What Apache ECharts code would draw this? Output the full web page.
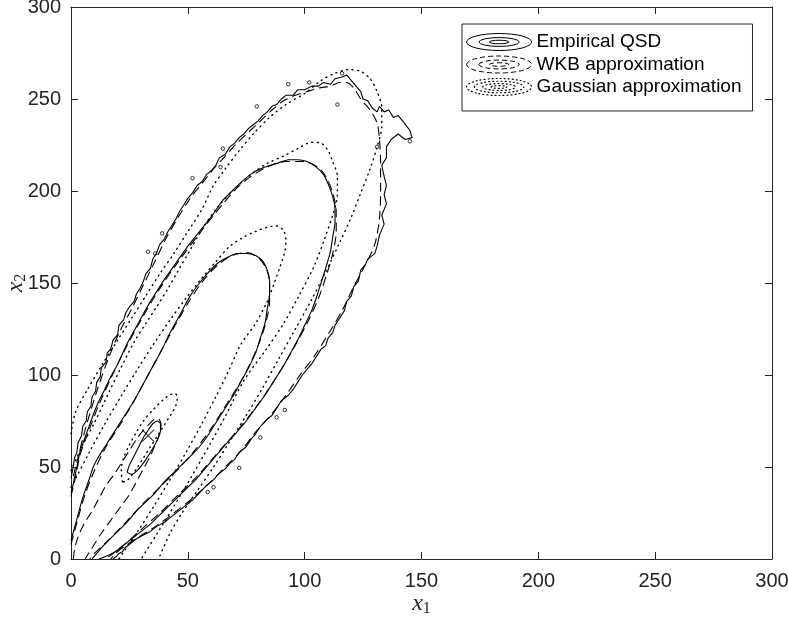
<!DOCTYPE html>
<html>
<head>
<meta charset="utf-8">
<script src="https://cdn.jsdelivr.net/npm/echarts@6/dist/echarts.min.js"></script>
<style>
  html, body { margin: 0; padding: 0; background: #fff; }
  #chart { width: 788px; height: 621px; }
</style>
</head>
<body>
<div id="chart"></div>
<script>
// axis ticks
const tickValues = [0, 50, 100, 150, 200, 250, 300]

// empirical QSD contours (outer -> core)
const empOuter = [[0,44],[0.8,49],[1.5,55],[2.5,58],[3,63],[4.5,67],[5,72],[6.5,75],[7,80],[8.5,83],[9,88],[10.5,91],[11,96],[12.5,99],[13,104],[15,107],[15.5,112],[17,114],[18,119],[20,122],[20.5,127],[22.5,130],[23.5,134],[25,137],[27,140],[28,144],[29.5,147],[31,151],[32,155],[34,158],[35,163],[36.5,166],[38,171],[40,174],[41.5,178],[43,181],[45,185],[46.5,189],[48,192],[50,196],[52,199],[54,203],[56,205],[58,209],[60,211],[62,214],[63.5,218],[66,220],[68,224],[70,226],[72,229],[74,231],[76,234],[78,236],[80,238],[82,241],[84,243],[86,246],[88,247],[90,250],[92,252],[95,252],[97,255],[100,255],[103,257],[106,257],[108,259],[111,258],[113,261],[116,262],[118,263],[120,260],[122,257],[124,254],[125,250],[127,249],[129,245],[131,243],[132,246],[134,243],[136,244],[138,240],[140,241],[142,238],[145,233],[146,229],[143,228],[140,231],[137,228],[135,224],[135,218],[133,214],[134,208],[135,203],[134,198],[135,193],[133,187],[134,182],[132,176],[131,170],[130,166],[127,163],[126,160],[124,157],[123,151],[121,148],[120,143],[118,140],[117,135],[115,131],[113,127],[112,123],[110,120],[109,116],[107,114],[105,110],[103,106],[101,103],[99,100],[97,96],[95,92],[93,89],[90,86],[88,82],[86,78],[84,76],[81,72],[79,68],[77,65],[75,61],[72,58],[70,54],[68,52],[66,49],[63,46],[61,43],[58,40],[55,36],[52,32],[49,29],[46,26],[43,23],[40,20],[37,18],[34,15],[31,13],[28,11],[25,8],[23,6],[22,4],[20.5,3],[19.5,1.5],[18,0]]
const empMid = [[0,36],[1,41],[2,47],[3,53],[4,59],[6,66],[8,73],[10,80],[12,86],[14,91],[17,99],[20,106],[24,117],[27,124],[30,131],[34,140],[37,146],[40,152],[45,161],[50,170],[55,178],[60,186],[65,195],[69,200],[73,205],[78,210],[83,213],[88,215],[93,217],[97,217],[101,216],[105,213],[108,209],[110,204],[112,197],[113,190],[113,183],[112,175],[111,167],[109,158],[107,150],[105,142],[103,135],[100,127],[97,119],[94,112],[91,105],[87,97],[83,89],[79,82],[75,75],[71,69],[66,62],[62,56],[58,50],[54,44],[50,39],[46,34],[42,29],[38,24],[34,19],[30,15],[26,11],[22,7],[19,4],[16,2],[14,1],[12,0]]
const empInner = [[0,10],[1.5,17],[3,24],[4.5,31],[6,37],[8,44],[9.5,50],[12,56],[15,62],[18,68],[21,74],[24,80],[27,86],[30,93],[33,100],[36,107],[39,114],[42,122],[45,129],[48,136],[51,143],[55,150],[59,156],[63,161],[67,164],[71,166],[75,166],[79,165],[82,162],[84,157],[85,151],[85,144],[84,136],[83,128],[81,120],[79,112],[76,104],[73,97],[70,90],[67,84],[64,78],[61,72],[58,66],[55,61],[52,57],[48,52],[44,47],[40,42],[36,36],[32,31],[28,26],[24,20],[20,15],[16,10],[13,6],[11,3],[9,0]]
const empCore = [[24,47],[25,51],[27,56],[29,61],[31,66],[33,70],[35,73.5],[37,75],[38.3,73.5],[38.3,70],[37,65],[35,60],[32,54],[29,49],[26,46],[24,47]]
// small isolated islands of the empirical outer contour
const empSpecks = [[33,167],[36,166],[39,177],[52,207],[64,213],[65,223],[79.5,246],[93,258],[102,259],[116,264],[114,247],[131,224],[145,227],[88,77],[91.5,81],[81,66],[72,49.5],[58.5,36.4],[61,39]]

// WKB approximation contours
const wkbOuter = [[1,45],[6,70],[11,91],[16,109],[21,124],[26,136],[31,149],[36,162],[41,175],[46,186],[51,196],[56,204],[61,212],[66,219],[71,226],[76,232],[81,238],[86,244],[91,249],[96,252],[101,254],[106,256],[111,257],[115,259],[118,259],[121,256],[124,250],[128,244],[131,237],[132,228],[132.5,215],[132.5,200],[132,185],[130,171],[126,160],[121,148],[116,135],[110,122],[104,110],[98,100],[92,89],[86,79],[79,69],[73,59],[66,50],[59,41],[52,33],[44,25],[36,17.5],[29,12],[23,7],[19,3],[17,0]]
const wkbMid = [[0,34],[2,45],[4,57],[8,71],[12,84],[17,98],[24,116],[30,130],[37,145],[45,160],[55,177],[65,193],[73,204],[83,212.5],[92,216],[99,216],[105,213.5],[109,208],[112,199],[113.5,189],[113.5,178],[112,166],[109.5,155],[106,142],[101,128],[95,114],[88,99],[80,84],[72,71],[63,58],[54,45],[46,35],[38,25],[30,16],[23,8],[18,3],[15,0]]
const wkbInner = [[0,8],[3,22],[6,35],[10,48],[15,61],[21,73],[27,86],[33,100],[39,114],[45,128],[51,141],[57,152],[63,160],[69,165],[75,166.5],[80,164],[83.5,158],[85,150],[85,140],[83.5,129],[81,119],[77,107],[72,95],[66,83],[60,71],[53,59],[46,49],[38,39],[30,29],[22,18],[15,9],[10,3],[8,0]]
const wkbCore = [[1,0],[1.5,5],[2.5,10],[4,15],[6,20],[9,26],[12,33],[15,40],[19,47],[22,53],[25,59],[28,65],[31,70],[34,74],[36,76],[37.5,76],[38.5,73],[38,68],[36,62],[34,56],[31,49],[28,42],[25,35],[21,28],[17,21],[13,14],[10,8],[8,4],[6,0]]

// Gaussian approximation contours
const gaussCore = [[22,42],[21.5,48],[22.5,55],[25,62],[28,69],[31,75],[35,81],[39,86],[42,89],[44.5,90],[45.5,88],[45,84],[43,79],[40,73],[37,67],[34,61],[31,55],[28,49],[25,44],[23,42],[22,42]]
const gaussInner = [[0,39],[2,43.8],[8.1,58.6],[14.6,73.7],[21.5,88.6],[28.4,103],[35.4,116.9],[42.4,129.9],[49.2,141.7],[55.7,152.2],[61.8,161.3],[68,170],[74,175],[79,178],[84,180.3],[88,181],[91,178.5],[92,173],[91.5,167],[89.5,159],[87,150],[84,140],[79,128],[72.6,116.5],[67.6,102.7],[62,88.2],[55.9,73.4],[49.4,58.3],[42.5,43.4],[35.6,29],[28.6,15.1],[21.6,2.1],[20.5,0]]
const gaussMid = [[0,48],[5,62],[10,74],[16,90],[21,103],[27,117.9],[32,128],[36.8,137.4],[41.5,147],[46,157],[51,168],[56,179],[62,190],[69,200],[76,208],[84,215],[91,219],[97,223],[103,226.5],[107,226],[110,222],[112,216],[114,208],[114,198],[112,187],[108.5,174],[104,159],[97.5,143],[91,128],[83,113],[74,97],[65.5,76.3],[56.3,55.2],[46.7,34.3],[37,14.1],[30,0]]
const gaussOuter = [[0,68],[2,80],[7,92],[13.5,106],[20,119],[26,131],[32,143],[38,155],[44,166],[50,178],[56,190],[61,203],[66,212],[72,222],[78,231],[85,240],[92,247],[100,253],[107,260],[113,264],[119,266],[124,265],[128,261],[131,254],[133,245],[133,235],[131,224],[128,212],[124,199],[120,186],[115,172],[109,156],[103,141],[96,125],[89,109],[82,93],[75,78],[68,64],[61,50],[54,37],[47,24],[42,13],[37.5,0]]

const modePoint = [[33, 67]]

const seriesNames = ['Empirical QSD', 'WKB approximation', 'Gaussian approximation']

const ellipseIcon = 'path://M0,12.5A50,12.5,0,1,1,100,12.5A50,12.5,0,1,1,0,12.5Z' +
  'M19,12.5A31,6.5,0,1,1,81,12.5A31,6.5,0,1,1,19,12.5Z' +
  'M35,12.5A15,2.6,0,1,1,65,12.5A15,2.6,0,1,1,35,12.5Z'
const gaussIcon = 'path://M0,12.5A50,12.5,0,1,1,100,12.5A50,12.5,0,1,1,0,12.5Z' +
  'M12,12.5A38,8.5,0,1,1,88,12.5A38,8.5,0,1,1,12,12.5Z' +
  'M25,12.5A25,5,0,1,1,75,12.5A25,5,0,1,1,25,12.5Z' +
  'M38,12.5A12,2,0,1,1,62,12.5A12,2,0,1,1,38,12.5Z'

const dashed = [9, 5]
const dotted = [1, 4.5]

function contour(name, data, type, smooth) {
  return {
    name: name,
    type: 'line',
    data: data,
    showSymbol: false,
    symbol: 'none',
    smooth: smooth,
    silent: true,
    lineStyle: {
      color: '#000',
      width: type === dotted ? 1.4 : 1.1,
      type: type,
      cap: type === dotted ? 'round' : 'butt'
    }
  }
}

const chart = echarts.init(document.getElementById('chart'))

const axisCommon = {
  type: 'value',
  min: tickValues[0],
  max: tickValues[tickValues.length - 1],
  interval: 50,
  splitLine: { show: false },
  axisLine: { show: true, onZero: false, lineStyle: { color: '#262626', width: 1 } },
  axisTick: { show: true, inside: true, length: 7, lineStyle: { color: '#262626' } }
}

const labelStyle = {
  fontFamily: 'Liberation Sans',
  fontSize: 20,
  color: '#262626'
}

const nameRich = {
  i: { fontFamily: 'Liberation Serif', fontStyle: 'italic', fontSize: 24, color: '#262626' },
  s: { fontFamily: 'Liberation Serif', fontSize: 16, color: '#262626', padding: [10, 0, 0, 0] }
}

const options = {
  animation: false,
  backgroundColor: '#fff',
  grid: {
    left: 71, right: 16, top: 7, bottom: 62,
    containLabel: false,
    outerBoundsMode: 'none'
  },
  legend: {
    left: 462,
    top: 24,
    orient: 'vertical',
    selectedMode: false,
    itemWidth: 65,
    itemHeight: 17,
    itemGap: 0.5,
    symbolKeepAspect: false,
    padding: [7, 11, 13, 4],
    borderColor: '#262626',
    borderWidth: 1,
    backgroundColor: '#fff',
    textStyle: { fontFamily: 'Liberation Sans', fontSize: 19, color: '#000', lineHeight: 22 },
    data: [
      { name: seriesNames[0], icon: ellipseIcon,
        itemStyle: { color: 'rgba(0,0,0,0)', borderColor: '#000', borderWidth: 1 } },
      { name: seriesNames[1], icon: ellipseIcon,
        itemStyle: { color: 'rgba(0,0,0,0)', borderColor: '#000', borderWidth: 1, borderType: [5, 3] } },
      { name: seriesNames[2], icon: gaussIcon,
        itemStyle: { color: 'rgba(0,0,0,0)', borderColor: '#000', borderWidth: 1.2, borderType: [1, 3], borderCap: 'round' } }
    ]
  },
  xAxis: [
    Object.assign({}, axisCommon, {
      position: 'bottom',
      name: '{i|x}{s|1}',
      nameLocation: 'middle',
      nameGap: 32,
      nameMoveOverlap: false,
      nameTextStyle: { rich: nameRich },
      axisLabel: Object.assign({ margin: 12 }, labelStyle)
    }),
    Object.assign({}, axisCommon, { position: 'top', axisLabel: { show: false } })
  ],
  yAxis: [
    Object.assign({}, axisCommon, {
      position: 'left',
      name: '{i|x}{s|2}',
      nameLocation: 'middle',
      nameRotate: 90,
      nameGap: 42,
      nameMoveOverlap: false,
      nameTextStyle: { rich: nameRich },
      axisLabel: Object.assign({ margin: 10 }, labelStyle)
    }),
    Object.assign({}, axisCommon, { position: 'right', axisLabel: { show: false } })
  ],
  series: [
    contour(seriesNames[2], gaussOuter, dotted, 0.3),
    contour(seriesNames[2], gaussMid, dotted, 0.3),
    contour(seriesNames[2], gaussInner, dotted, 0.3),
    contour(seriesNames[2], gaussCore, dotted, 0.3),
    contour(seriesNames[1], wkbOuter, dashed, 0.3),
    contour(seriesNames[1], wkbMid, dashed, 0.3),
    contour(seriesNames[1], wkbInner, dashed, 0.3),
    contour(seriesNames[1], wkbCore, dashed, 0.3),
    contour(seriesNames[0], empOuter, 'solid', false),
    contour(seriesNames[0], empMid, 'solid', 0.2),
    contour(seriesNames[0], empInner, 'solid', 0.2),
    contour(seriesNames[0], empCore, 'solid', 0.2),
    {
      name: seriesNames[0],
      type: 'scatter',
      data: empSpecks,
      symbol: 'circle',
      symbolSize: 3.5,
      silent: true,
      itemStyle: { color: '#fff', borderColor: '#000', borderWidth: 1 }
    },
    {
      name: 'mode',
      type: 'scatter',
      data: modePoint,
      symbol: 'path://M0,0L10,10M10,0L0,10',
      symbolSize: 12,
      silent: true,
      itemStyle: { color: 'rgba(0,0,0,0)', borderColor: '#000', borderWidth: 1.1 }
    }
  ]
}

chart.setOption(options)
</script>
</body>
</html>
